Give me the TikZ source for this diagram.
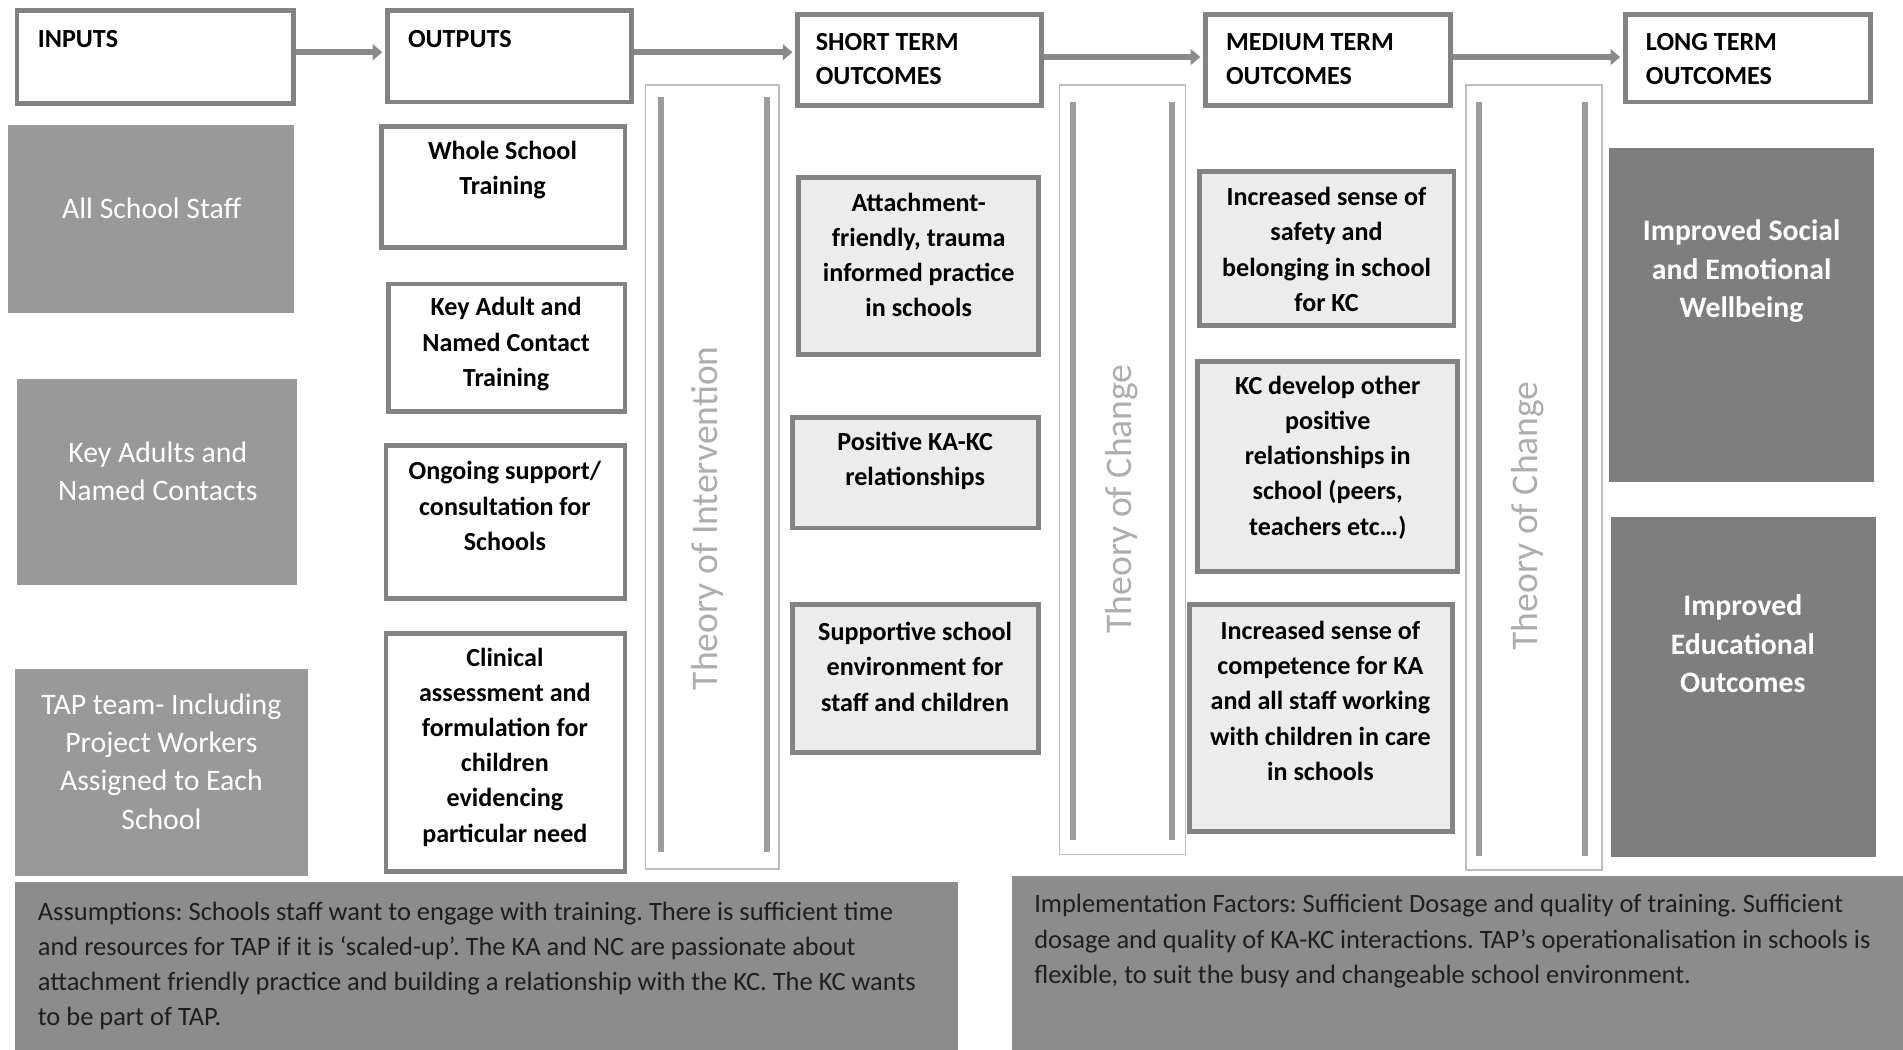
\documentclass[tikz,border=0pt]{standalone}
\usepackage{fontspec}
\setmainfont{Carlito}
\frenchspacing
\usetikzlibrary{arrows.meta,fit}
\definecolor{edge}{HTML}{838383}
\definecolor{arrowcol}{HTML}{8A8A8A}
\definecolor{infill}{HTML}{999999}
\definecolor{ltfill}{HTML}{7E7E7E}
\definecolor{shortfill}{HTML}{ECECEC}
\definecolor{notefill}{HTML}{8C8C8C}
\definecolor{notetextcol}{HTML}{1E1E1E}
\definecolor{colborder}{HTML}{BDBDBD}
\definecolor{barcol}{HTML}{9C9C9C}
\definecolor{theorycol}{HTML}{ADADAD}
\begin{document}
\begin{tikzpicture}[x=1pt,y=-1pt,
  hdrbox/.style={draw=edge, line width=4pt, fill=white, inner sep=0pt},
  hdrtext/.style={font=\bfseries\fontsize{21.5}{28}\selectfont, align=left, anchor=west, inner sep=0pt},
  outbox/.style={draw=edge, line width=4pt, fill=white, inner sep=0pt},
  stbox/.style={draw=edge, line width=4pt, fill=shortfill, inner sep=0pt},
  inbox/.style={fill=infill, inner sep=0pt},
  ltbox/.style={fill=ltfill, inner sep=0pt},
  boxtext/.style={font=\bfseries\fontsize{21.5}{29}\selectfont, align=center, inner sep=0pt, text=black},
  intext/.style={font=\fontsize{24.5}{31.5}\selectfont, align=center, inner sep=0pt, text=white},
  lttext/.style={font=\bfseries\fontsize{24.5}{31.5}\selectfont, align=center, inner sep=0pt, text=white},
  colbox/.style={draw=colborder, line width=1.2pt, inner sep=0pt},
  colbar/.style={draw=barcol, line width=5pt},
  theory/.style={font=\fontsize{31}{36}\selectfont, text=theorycol, rotate=90, inner sep=0pt},
  notebox/.style={fill=notefill, inner sep=0pt},
  notetext/.style={font=\fontsize{21.8}{29}\selectfont, align=left, anchor=west, inner sep=0pt, text=notetextcol},
  arr/.style={draw=arrowcol, line width=5pt, -{Triangle[length=8pt,width=13pt]}, shorten >=2pt}
]
\useasboundingbox (0,0) rectangle (1568,865);

% ---- column headers ----
\node[hdrbox, fit={(14,9)(242,85)}] (inp) {};
\node[hdrbox, fit={(319,9)(520,84)}] (outp) {};
\node[hdrbox, fit={(657,12)(858,87)}] (st) {};
\node[hdrbox, fit={(993,12)(1195,87)}] (mt) {};
\node[hdrbox, fit={(1339,12)(1541,84)}] (lt) {};
\node[hdrtext] (inpT) at (31,32) {INPUTS};
\node[hdrtext] (outpT) at (336,32) {OUTPUTS};
\node[hdrtext] (stT) at (672,49) {SHORT TERM\\OUTCOMES};
\node[hdrtext] (mtT) at (1010,49) {MEDIUM TERM\\OUTCOMES};
\node[hdrtext] (ltT) at (1356,49) {LONG TERM\\OUTCOMES};

% ---- header arrows ----
\draw[arr] (inp.east |- 0,43) -- (outp.west |- 0,43);
\draw[arr] (outp.east |- 0,43) -- (st.west |- 0,43);
\draw[arr] (st.east |- 0,47) -- (mt.west |- 0,47);
\draw[arr] (mt.east |- 0,47) -- (lt.west |- 0,47);

% ---- inputs ----
\node[inbox, fit={(7,103)(242,258)}] (in1) {};
\node[inbox, fit={(14,312)(245,482)}] (in2) {};
\node[inbox, fit={(12,551)(254,722)}] (in3) {};
\node[intext] (in1T) at (125,172) {All School Staff};
\node[intext] (in2T) at (130,388) {Key Adults and\\Named Contacts};
\node[intext] (in3T) at (133,627.5) {TAP team- Including\\Project Workers\\Assigned to Each\\School};

% ---- outputs ----
\node[outbox, fit={(314,104)(515,204)}] (o1) {};
\node[outbox, fit={(320,234)(515,339)}] (o2) {};
\node[outbox, fit={(318,367)(515,493)}] (o3) {};
\node[outbox, fit={(318,522)(515,718)}] (o4) {};
\node[boxtext] (o1T) at (414,140) {Whole School\\Training};
\node[boxtext] (o2T) at (417,283.5) {Key Adult and\\Named Contact\\Training};
\node[boxtext] (o3T) at (416,417) {Ongoing support/\\consultation for\\Schools};
\node[boxtext] (o4T) at (416,615.5) {Clinical\\assessment and\\formulation for\\children\\evidencing\\particular need};

% ---- theory columns ----
\node[colbox, fit={(532,70)(642,716)}] (c1) {};
\draw[colbar] (545,80) -- (545,702);
\draw[colbar] (632,80) -- (632,702);
\node[theory] (c1T) at (583,427) {Theory of Intervention};

\node[colbox, fit={(873,70)(977,704)}] (c2) {};
\draw[colbar] (884,84) -- (884,692);
\draw[colbar] (966,84) -- (966,692);
\node[theory] (c2T) at (924,411) {Theory of Change};

\node[colbox, fit={(1208,70)(1320,717)}] (c3) {};
\draw[colbar] (1219,84) -- (1219,705);
\draw[colbar] (1306,84) -- (1306,705);
\node[theory] (c3T) at (1259,425) {Theory of Change};

% ---- short term outcomes ----
\node[stbox, fit={(658,146)(856,292)}] (s1) {};
\node[stbox, fit={(653,344)(856,435)}] (s2) {};
\node[stbox, fit={(653,498)(856,620)}] (s3) {};
\node[boxtext] (s1T) at (757,210) {Attachment-\\friendly, trauma\\informed practice\\in schools};
\node[boxtext] (s2T) at (754,380) {Positive KA-KC\\relationships};
\node[boxtext] (s3T) at (754,549.5) {Supportive school\\environment for\\staff and children};

% ---- medium term outcomes ----
\node[stbox, fit={(988,141)(1198,268)}] (m1) {};
\node[stbox, fit={(987,298)(1201,471)}] (m2) {};
\node[stbox, fit={(980,498)(1197,685)}] (m3) {};
\node[boxtext] (m1T) at (1093,205.5) {Increased sense of\\safety and\\belonging in school\\for KC};
\node[boxtext] (m2T) at (1094,377) {KC develop other\\positive\\relationships in\\school (peers,\\teachers etc…)};
\node[boxtext] (m3T) at (1088,577.5) {Increased sense of\\competence for KA\\and all staff working\\with children in care\\in schools};

% ---- long term outcomes ----
\node[ltbox, fit={(1326,122)(1544,397)}] (l1) {};
\node[ltbox, fit={(1327,426)(1546,706)}] (l2) {};
\node[lttext] (l1T) at (1435,223.5) {Improved Social\\and Emotional\\Wellbeing};
\node[lttext] (l2T) at (1436,530.5) {Improved\\Educational\\Outcomes};

% ---- notes ----
\node[notebox, fit={(12,727)(789,865)}] (n1) {};
\node[notebox, fit={(834,722)(1568,865)}] (n2) {};
\node[notetext] (n1T) at (31,796) {Assumptions: Schools staff want to engage with training. There is sufficient time\\and resources for TAP if it is ‘scaled-up’. The KA and NC are passionate about\\attachment friendly practice and building a relationship with the KC. The KC wants\\to be part of TAP.};
\node[notetext] (n2T) at (852,775.5) {Implementation Factors: Sufficient Dosage and quality of training. Sufficient\\dosage and quality of KA-KC interactions. TAP’s operationalisation in schools is\\flexible, to suit the busy and changeable school environment.};
\end{tikzpicture}
\end{document}
